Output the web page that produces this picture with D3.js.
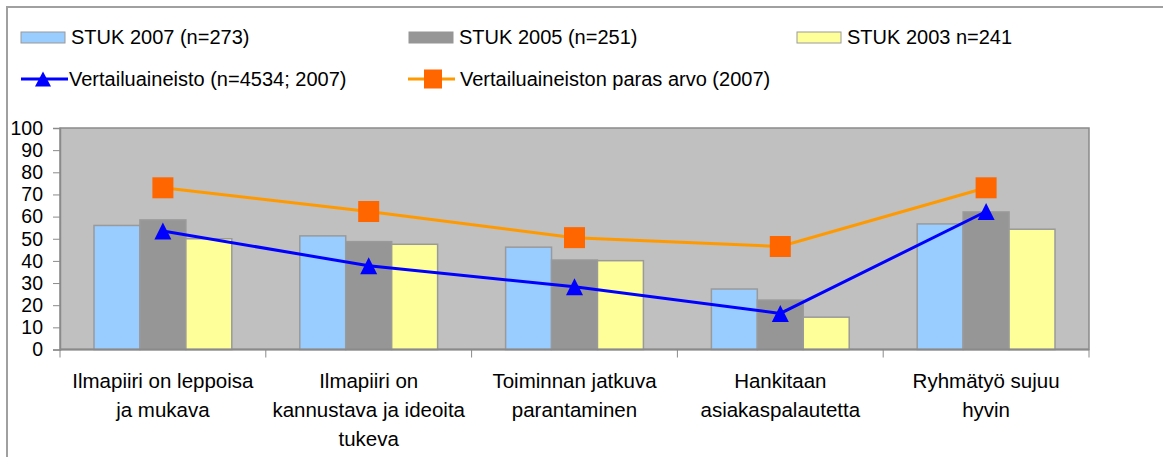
<!DOCTYPE html>
<html>
<head>
<meta charset="utf-8">
<script src="https://cdn.jsdelivr.net/npm/d3@7"></script>
<style>
  body { margin: 0; background: #fff; }
  text { font-family: "Liberation Sans", Arial, sans-serif; fill: #000; }
</style>
</head>
<body>
<div id="chart"></div>
<script>
// data
const categories = [
  "Ilmapiiri on leppoisa ja mukava",
  "Ilmapiiri on kannustava ja ideoita tukeva",
  "Toiminnan jatkuva parantaminen",
  "Hankitaan asiakaspalautetta",
  "Ryhmätyö sujuu hyvin"
];
const categoryLines = [
  ["Ilmapiiri on leppoisa", "ja mukava"],
  ["Ilmapiiri on", "kannustava ja ideoita", "tukeva"],
  ["Toiminnan jatkuva", "parantaminen"],
  ["Hankitaan", "asiakaspalautetta"],
  ["Ryhmätyö sujuu", "hyvin"]
];
const barSeries = ["STUK 2007 (n=273)", "STUK 2005 (n=251)", "STUK 2003 n=241"];
const stuk2007 = [56, 51.3, 46.2, 27.3, 56.7];
const stuk2005 = [58.5, 48.7, 40.4, 22.3, 62.1];
const stuk2003 = [50, 47.5, 40.1, 14.6, 54.3];
const lineSeries = ["Vertailuaineisto (n=4534; 2007)", "Vertailuaineiston paras arvo (2007)"];
const vertailu = [53.5, 37.8, 28.3, 16.3, 62.3];
const paras = [73, 62.3, 50.5, 46.5, 73];
const yTicks = [0, 10, 20, 30, 40, 50, 60, 70, 80, 90, 100];

const width = 1163, height = 457;
const plot = { left: 60, right: 1089, top: 128, bottom: 349.5 };
const barColors = ["#99ccff", "#969696", "#ffff99"];
const font = '"Liberation Sans", Arial, sans-serif';

const svg = d3.select("#chart").append("svg")
  .attr("width", width)
  .attr("height", height);

// outer frame (only top and left edges are visible)
svg.append("path")
  .attr("d", `M7,${height} V7 H${width}`)
  .attr("fill", "none")
  .attr("stroke", "#a0a0a0")
  .attr("stroke-width", 2);

const x = d3.scaleBand().domain(categories).range([plot.left, plot.right]);
const xInner = d3.scaleBand().domain(barSeries).range([0, x.bandwidth()])
  .paddingInner(0).paddingOuter(0.74);
const y = d3.scaleLinear().domain([0, 100]).range([plot.bottom, plot.top]);

// plot area
svg.append("rect")
  .attr("x", plot.left)
  .attr("y", plot.top)
  .attr("width", plot.right - plot.left)
  .attr("height", plot.bottom - plot.top)
  .attr("fill", "#c0c0c0")
  .attr("stroke", "#8a8a8a")
  .attr("stroke-width", 1.5);

// bars
const barData = [stuk2007, stuk2005, stuk2003];
barData.forEach((vals, si) => {
  svg.append("g").selectAll("rect")
    .data(vals)
    .join("rect")
    .attr("x", (d, i) => x(categories[i]) + xInner(barSeries[si]))
    .attr("y", d => y(d))
    .attr("width", xInner.bandwidth())
    .attr("height", d => y(0) - y(d))
    .attr("fill", barColors[si])
    .attr("stroke", "#9a9a9a")
    .attr("stroke-width", 1.5);
});

// y axis
const yAxis = svg.append("g")
  .attr("transform", `translate(${plot.left},0)`)
  .call(d3.axisLeft(y).tickValues(yTicks).tickSize(7).tickPadding(10));
yAxis.select(".domain").attr("stroke", "#8a8a8a").attr("stroke-width", 1.5);
yAxis.selectAll(".tick line").attr("stroke", "#8a8a8a");
yAxis.selectAll(".tick text")
  .style("font-family", font)
  .style("font-size", "19.5px")
  .attr("fill", "#000");

// x axis: ticks at category boundaries
const xEdges = categories.map(c => x(c)).concat([plot.right]);
svg.append("line")
  .attr("x1", plot.left).attr("x2", plot.right)
  .attr("y1", y(0)).attr("y2", y(0))
  .attr("stroke", "#8a8a8a").attr("stroke-width", 2);
svg.append("g").selectAll("line")
  .data(xEdges)
  .join("line")
  .attr("x1", d => d).attr("x2", d => d)
  .attr("y1", y(0)).attr("y2", y(0) + 8)
  .attr("stroke", "#8a8a8a");

const xLabels = svg.append("g").selectAll("text")
  .data(categories)
  .join("text")
  .attr("text-anchor", "middle")
  .style("font-size", "20.5px");
xLabels.each(function (c, i) {
  d3.select(this).selectAll("tspan")
    .data(categoryLines[i])
    .join("tspan")
    .attr("x", x(c) + x.bandwidth() / 2)
    .attr("y", (d, j) => 388 + j * 29)
    .text(d => d);
});

// lines
const line = d3.line()
  .x((d, i) => x(categories[i]) + x.bandwidth() / 2)
  .y(d => y(d));

svg.append("path")
  .datum(paras)
  .attr("d", line)
  .attr("fill", "none")
  .attr("stroke", "#ff9900")
  .attr("stroke-width", 3);

svg.append("path")
  .datum(vertailu)
  .attr("d", line)
  .attr("fill", "none")
  .attr("stroke", "#0000ff")
  .attr("stroke-width", 3);

const tri = (cx, cy, w, h) =>
  `M${cx},${cy - h / 2} L${cx + w / 2},${cy + h / 2} L${cx - w / 2},${cy + h / 2} Z`;

svg.append("g").selectAll("path")
  .data(vertailu)
  .join("path")
  .attr("d", (d, i) => tri(x(categories[i]) + x.bandwidth() / 2, y(d), 17, 17))
  .attr("fill", "#0000ff");

svg.append("g").selectAll("rect")
  .data(paras)
  .join("rect")
  .attr("x", (d, i) => x(categories[i]) + x.bandwidth() / 2 - 10.5)
  .attr("y", d => y(d) - 10.5)
  .attr("width", 21)
  .attr("height", 21)
  .attr("fill", "#ff6600");

// legend
const legend = svg.append("g");
const barLegendX = [21, 409, 797];
barSeries.forEach((s, i) => {
  const g = legend.append("g").attr("transform", `translate(${barLegendX[i]},0)`);
  g.append("rect")
    .attr("x", 0).attr("y", 32)
    .attr("width", 44).attr("height", 11)
    .attr("fill", barColors[i])
    .attr("stroke", i === 1 ? barColors[1] : "#9a9a9a");
  g.append("text")
    .attr("x", 50).attr("y", 43.5)
    .style("font-size", "20px")
    .text(s);
});

const lineLegendX = [21, 408];
lineSeries.forEach((s, i) => {
  const g = legend.append("g").attr("transform", `translate(${lineLegendX[i]},0)`);
  g.append("line")
    .attr("x1", 0).attr("x2", 47)
    .attr("y1", 79).attr("y2", 79)
    .attr("stroke", i === 0 ? "#0000ff" : "#ff9900")
    .attr("stroke-width", 3);
  if (i === 0) {
    g.append("path").attr("d", tri(22, 79, 16, 15)).attr("fill", "#0000ff");
  } else {
    g.append("rect")
      .attr("x", 16).attr("y", 69.5)
      .attr("width", 18).attr("height", 19)
      .attr("fill", "#ff6600");
  }
  g.append("text")
    .attr("x", i === 0 ? 48 : 52).attr("y", 85.5)
    .style("font-size", "20px")
    .text(s);
});
</script>
</body>
</html>
